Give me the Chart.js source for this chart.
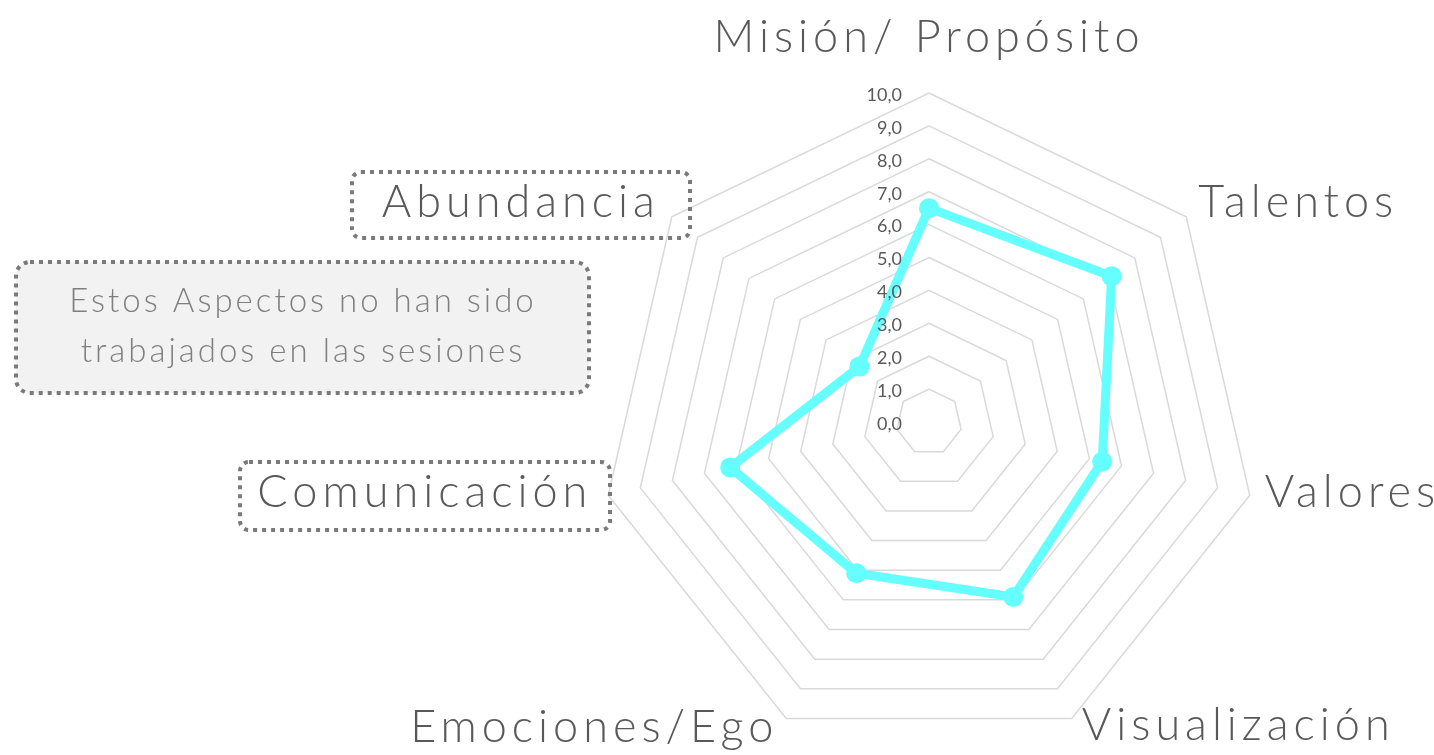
<!DOCTYPE html>
<html>
<head>
<meta charset="utf-8">
<script src="https://cdn.jsdelivr.net/npm/chart.js@4.4.1/dist/chart.umd.min.js"></script>
<style>
    html, body { margin: 0; padding: 0; background: #ffffff; }
    #wrap { position: relative; width: 1434px; height: 755px; overflow: hidden; }
    #radarChart { position: absolute; left: 0; top: 0; }
</style>
</head>
<body>
<div id="wrap">
    <canvas id="radarChart" width="1434" height="755"></canvas>
</div>
<script>
// Chart data
const categories = ['Misión/ Propósito', 'Talentos', 'Valores', 'Visualización', 'Emociones/Ego', 'Comunicación', 'Abundancia'];
const scores = [6.5, 7.1, 5.4, 5.9, 5.1, 6.2, 2.7];
const tickValues = [0, 1, 2, 3, 4, 5, 6, 7, 8, 9, 10];
const noteLines = ['Estos Aspectos no han sido', 'trabajados en las sesiones'];

const textGray = '#595959';
const boxGray = '#7a7a7a';
const handFont = '"Lato", "Open Sans", sans-serif';

// offsets of each category label from its outer vertex: [dx, dy, align]
const labelOffsets = [
    [0, -56, 'center'],
    [12, -14, 'left'],
    [15, -3, 'left'],
    [10, 7, 'left'],
    [-8, 9, 'right'],
    [-16, -3, 'right'],
    [-12, -14, 'right']
];

function dottedBox(ctx, x, y, w, h, r, fill) {
    ctx.save();
    ctx.beginPath();
    ctx.roundRect(x, y, w, h, r);
    if (fill) {
        ctx.fillStyle = fill;
        ctx.fill();
    }
    ctx.setLineDash([4, 5]);
    ctx.lineWidth = 4;
    ctx.strokeStyle = boxGray;
    ctx.stroke();
    ctx.restore();
}

// Draws tick labels beside the vertical axis, category labels and the note boxes
const radarDecor = {
    id: 'radarDecor',
    afterDraw(chart) {
        const ctx = chart.ctx;
        const scale = chart.scales.r;

        // tick labels, right aligned left of the axis
        ctx.save();
        ctx.font = '18px "Lato", "Liberation Sans", sans-serif';
        ctx.fillStyle = textGray;
        ctx.textAlign = 'right';
        ctx.textBaseline = 'middle';
        tickValues.forEach(v => {
            const y = scale.yCenter - scale.getDistanceFromCenterForValue(v) + 2;
            ctx.fillText(v.toFixed(1).replace('.', ','), scale.xCenter - 27, y);
        });
        ctx.restore();

        // boxes around a few category labels
        dottedBox(ctx, 352, 172, 338, 66, 9, null);
        dottedBox(ctx, 240, 462, 370, 68, 9, null);

        // category labels
        ctx.save();
        ctx.font = '300 45px ' + handFont;
        ctx.letterSpacing = '5px';
        ctx.fillStyle = textGray;
        ctx.textBaseline = 'middle';
        categories.forEach((label, i) => {
            const p = scale.getPointPosition(i, scale.drawingArea);
            const off = labelOffsets[i];
            ctx.textAlign = off[2];
            ctx.fillText(label, p.x + off[0], p.y + off[1]);
        });
        ctx.restore();

        // note box
        dottedBox(ctx, 16, 262, 573, 131, 14, '#f2f2f2');
        ctx.save();
        ctx.font = '300 33px ' + handFont;
        ctx.letterSpacing = '3px';
        ctx.fillStyle = '#7f7f7f';
        ctx.textAlign = 'center';
        ctx.textBaseline = 'middle';
        noteLines.forEach((line, i) => {
            ctx.fillText(line, 303, 301 + i * 50);
        });
        ctx.restore();
    }
};

function initializeRadarChart() {
    const ctx = document.getElementById('radarChart');
    if (!ctx) return;

    new Chart(ctx, {
        type: 'radar',
        data: {
            labels: categories,
            datasets: [{
                label: 'Puntuación',
                data: scores,
                borderColor: '#66ffff',
                backgroundColor: '#66ffff',
                borderWidth: 9,
                pointRadius: 10,
                pointBorderWidth: 0,
                pointBackgroundColor: '#66ffff',
                fill: false,
                tension: 0
            }]
        },
        options: {
            responsive: false,
            animation: false,
            layout: {
                padding: { left: 600, right: 176, top: 93, bottom: 4 }
            },
            plugins: {
                legend: { display: false },
                tooltip: { enabled: false }
            },
            scales: {
                r: {
                    min: 0,
                    max: 10,
                    ticks: { stepSize: 1, display: false },
                    grid: { color: '#d9d9d9', lineWidth: 1.5 },
                    angleLines: { display: false },
                    pointLabels: { display: false }
                }
            }
        },
        plugins: [radarDecor]
    });
}

initializeRadarChart();
</script>
</body>
</html>
